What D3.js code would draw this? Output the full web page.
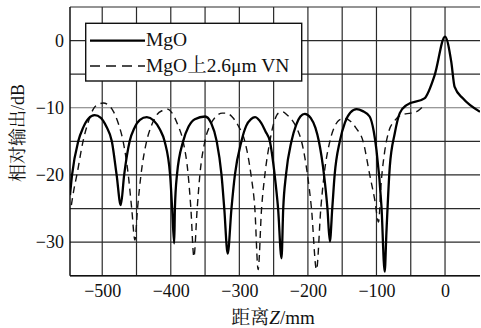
<!DOCTYPE html>
<html><head><meta charset="utf-8">
<script src="https://cdn.jsdelivr.net/npm/d3@7"></script>
<style>body{margin:0;background:#fff}</style>
</head><body><svg id="c" width="481" height="328"></svg>
<script>
const xTicks = [-500, -400, -300, -200, -100, 0];
const xGrid = [-500, -450, -400, -350, -300, -250, -200, -150, -100, -50, 0];
const yTicks = [0, -10, -20, -30];
const yGrid = [5, 0, -5, -10, -15, -20, -25, -30, -35];
const seriesNames = ["MgO", "MgO上2.6μm VN"];

const mgoZ = [-547,-544,-535,-528,-520,-511,-502,-494,-486,-479,-473,-468,-460,-453,-445,-435,-425,-416,-409,-401,-398,-395,-394,-391,-382,-374,-365,-350,-341,-333,-326,-322,-317,-311.5,-306.5,-297,-290,-283,-277,-268,-262,-255.5,-248.5,-243.5,-238.5,-236,-232,-224,-217,-211,-204.5,-196,-189,-184,-176.5,-171.5,-168,-164.5,-161,-153.5,-146,-138,-129,-120,-110,-104,-100,-92.7,-88,-85.5,-80.6,-73.3,-66,-56,-30,-15,0,9,14,26,51];
const mgoDb = [-23,-20,-15,-13,-11.6,-11.1,-11.5,-12.8,-15,-20,-24.5,-20,-15,-13,-11.8,-11.4,-11.9,-13.2,-15,-20,-25,-30.2,-25,-20,-15,-12.8,-11.7,-11.3,-12.3,-15,-20,-25,-31.7,-25,-20,-15,-12.7,-11.7,-11.4,-12.3,-13.5,-15,-20,-25,-32.4,-25,-20,-15,-12.5,-11.3,-10.9,-11.5,-13,-15,-20,-25,-29.9,-25,-20,-15,-12.2,-10.7,-10.2,-10.5,-11.3,-13.5,-16.3,-24.7,-34.4,-28.6,-18.8,-13.8,-10.8,-9.6,-8.6,-5.1,0.6,-3.1,-6.9,-8.6,-10.6];

const vnZ = [-545,-541,-537,-528,-520,-513,-506,-498.5,-491,-484,-476,-469.5,-462,-457,-452.3,-448.5,-443.5,-435.3,-428,-420,-412,-405,-398,-390,-382,-374.6,-370.7,-366.3,-361.5,-357.6,-350.3,-342,-333,-325,-318.7,-311,-302,-292,-283,-277.4,-272.6,-267.6,-262.8,-255.5,-249,-243,-237,-230,-222,-215,-209.3,-200.6,-194.8,-187.5,-181.2,-176.4,-168,-161,-154,-146,-138,-130,-119.5,-109.8,-102.5,-97,-93,-88,-82,-74,-62,-50,-40,-30];
const vnDb = [-24.5,-22,-20,-15,-12,-10.2,-9.5,-9.3,-9.6,-10.5,-12.5,-15,-20,-25,-29.7,-25,-20,-15,-12.6,-11,-10.4,-10.2,-10.8,-12.5,-15,-20,-25,-32.2,-25,-20,-15,-12.5,-11.2,-10.8,-10.8,-11.3,-12.6,-15,-20,-25,-34.1,-25,-20,-15,-12,-10.8,-10.6,-11.1,-12,-13.3,-15,-20,-25,-34.1,-25,-20,-15,-12.8,-11.8,-11.6,-12,-13,-15,-20,-23.7,-27,-21,-16.5,-13.5,-12,-11,-10.8,-10.5,-9.6];

const L = 70, R = 480, T = 7, B = 275.7;
const svg = d3.select("#c");
const x = d3.scaleLinear().domain([-547, 51]).range([L, R]);
const y = d3.scaleLinear().domain([-35, 5]).range([B, T]);
const serif = "'Liberation Serif','Times New Roman','Noto Serif CJK SC','Noto Sans CJK SC',serif";

svg.append("clipPath").attr("id","clip").append("rect")
  .attr("x", L).attr("y", T).attr("width", R - L).attr("height", B - T);

const g = svg.append("g");
g.selectAll("line.vg").data(xGrid).join("line").attr("class","vg")
  .attr("x1", d => x(d)).attr("x2", d => x(d)).attr("y1", T).attr("y2", B)
  .attr("stroke", "#2a2a2a").attr("stroke-width", 1.2);
g.selectAll("line.hg").data(yGrid).join("line").attr("class","hg")
  .attr("y1", d => y(d)).attr("y2", d => y(d)).attr("x1", L).attr("x2", R)
  .attr("stroke", d => d === -10 ? "#777" : "#2a2a2a").attr("stroke-width", 1.2);
g.append("line").attr("x1", L).attr("x2", L).attr("y1", T).attr("y2", B)
  .attr("stroke", "#111").attr("stroke-width", 1.5);
g.append("line").attr("x1", L).attr("x2", R).attr("y1", B).attr("y2", B)
  .attr("stroke", "#111").attr("stroke-width", 1.5);

const fmt = d => d < 0 ? "\u2212" + Math.abs(d) : String(d);
const xa = svg.append("g").attr("transform", `translate(0,${B})`)
  .call(d3.axisBottom(x).tickValues(xTicks).tickFormat(fmt).tickSize(0).tickPadding(21));
const ya = svg.append("g").attr("transform", `translate(${L},0)`)
  .call(d3.axisLeft(y).tickValues(yTicks).tickFormat(fmt).tickSize(0).tickPadding(6));
[xa, ya].forEach(a => {
  a.select(".domain").remove();
  a.selectAll("text").attr("font-family", serif).attr("font-size", 18).attr("fill", "#111");
});
xa.selectAll("text").attr("dy", 0);

const line = d3.line().x(d => x(d[0])).y(d => y(d[1])).curve(d3.curveMonotoneX);
const mgo = mgoZ.map((z, i) => [z, mgoDb[i]]);
const vn = vnZ.map((z, i) => [z, vnDb[i]]);
const cg = svg.append("g").attr("clip-path", "url(#clip)");
cg.append("path").datum(vn).attr("d", line).attr("fill", "none")
  .attr("stroke", "#111").attr("stroke-width", 1.4).attr("stroke-dasharray", "7,5");
cg.append("path").datum(mgo).attr("d", line).attr("fill", "none")
  .attr("stroke", "#000").attr("stroke-width", 2.3).attr("stroke-linejoin", "round");

const lg = svg.append("g");
lg.append("rect").attr("x", 85.7).attr("y", 23.3).attr("width", 216).attr("height", 57.7)
  .attr("fill", "#fff").attr("stroke", "#111").attr("stroke-width", 1.4);
lg.append("line").attr("x1", 90).attr("x2", 145).attr("y1", 40.7).attr("y2", 40.7)
  .attr("stroke", "#000").attr("stroke-width", 2.3);
lg.append("line").attr("x1", 90).attr("x2", 145).attr("y1", 66).attr("y2", 66)
  .attr("stroke", "#111").attr("stroke-width", 1.4).attr("stroke-dasharray", "10,6");
lg.selectAll("text").data(seriesNames).join("text")
  .attr("x", 146).attr("y", (d, i) => i === 0 ? 46 : 72)
  .attr("font-family", serif).attr("font-size", 19.5).attr("fill", "#111")
  .text(d => d);

const xt = svg.append("text").attr("x", 273).attr("y", 324).attr("text-anchor", "middle")
  .attr("font-family", serif).attr("font-size", 19).attr("fill", "#111");
xt.append("tspan").text("距离");
xt.append("tspan").attr("font-style", "italic").text("Z");
xt.append("tspan").text("/mm");
svg.append("text").attr("transform", "translate(24,133) rotate(-90)").attr("text-anchor", "middle")
  .attr("font-family", serif).attr("font-size", 18).attr("fill", "#111").text("相对输出/dB");
</script></body></html>
